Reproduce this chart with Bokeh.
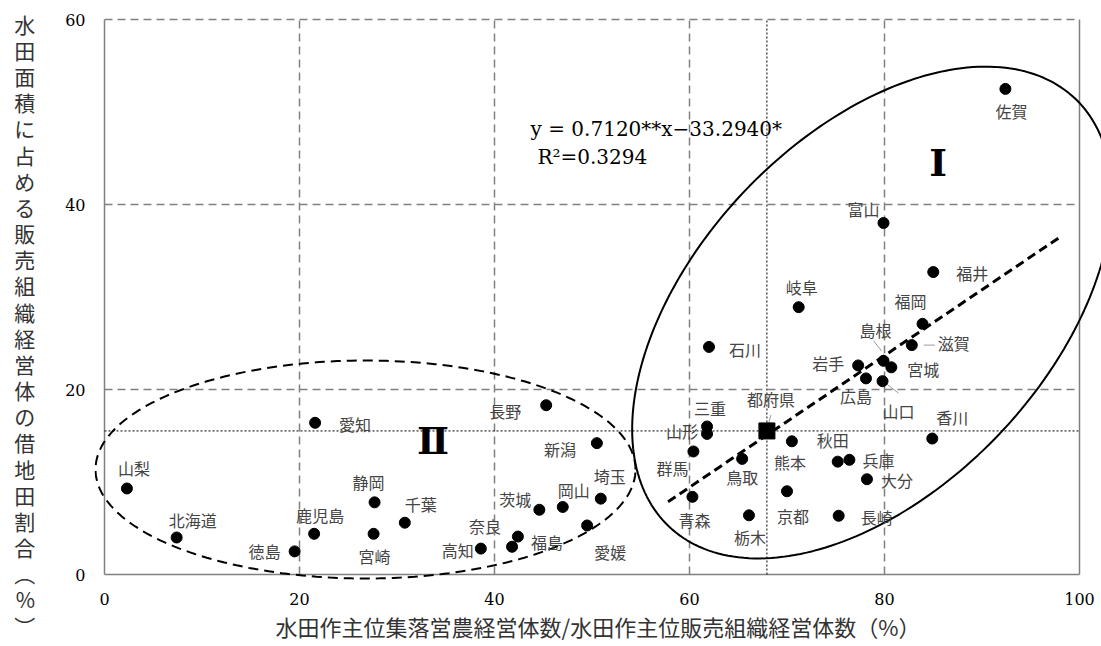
from bokeh.plotting import figure
from bokeh.models import ColumnDataSource, Label, FixedTicker
from bokeh.core.properties import value
from bokeh.embed import file_html
from bokeh.resources import INLINE
import math

# ---------------- data ----------------
names = ["山梨", "北海道", "徳島", "鹿児島", "愛知", "静岡", "宮崎", "千葉", "高知", "奈良",
         "福島", "茨城", "岡山", "埼玉", "愛媛", "新潟", "長野",
         "岐阜", "石川", "三重", "山形", "群馬", "青森", "鳥取", "熊本", "栃木", "京都",
         "秋田", "兵庫", "大分", "長崎", "岩手", "広島", "山口", "島根", "宮城", "滋賀",
         "福岡", "香川", "福井", "富山", "佐賀"]
x_share = [2.3, 7.4, 19.5, 21.5, 21.6, 27.7, 27.6, 30.8, 38.6, 42.4,
           41.8, 44.6, 47.0, 50.9, 49.5, 50.5, 45.3,
           71.2, 62.0, 61.8, 61.8, 60.4, 60.3, 65.4, 70.5, 66.1, 70.0,
           75.2, 76.4, 78.2, 75.3, 77.3, 78.1, 79.8, 79.9, 80.7, 82.8,
           83.9, 84.9, 85.0, 79.9, 92.4]
y_share = [9.3, 4.0, 2.5, 4.4, 16.4, 7.8, 4.4, 5.6, 2.8, 4.1,
           3.0, 7.0, 7.3, 8.2, 5.3, 14.2, 18.3,
           28.9, 24.6, 16.0, 15.2, 13.3, 8.4, 12.5, 14.4, 6.4, 9.0,
           12.2, 12.4, 10.3, 6.35, 22.6, 21.2, 20.9, 23.1, 22.4, 24.8,
           27.1, 14.7, 32.7, 38.0, 52.5]
avg_name = "都府県"
avg_x = 67.94
avg_y = 15.52
slope = 0.7120
intercept = -33.2940
fit_x = [57.8, 97.9]
eq_text = "y = 0.7120**x\u221233.2940*"
r2_text = "R\u00b2=0.3294"
x_ticks = [0, 20, 40, 60, 80, 100]
y_ticks = [0, 20, 40, 60]
x_title = "水田作主位集落営農経営体数/水田作主位販売組織経営体数（%）"
y_title = "水田面積に占める販売組織経営体の借地田割合︵%︶"

# label placement (screen px offsets from point, y down)
label_offsets = {
    "山梨": (7, -20), "北海道": (16, -18), "徳島": (-30, 0), "鹿児島": (6, -19),
    "愛知": (40, 1), "静岡": (-6, -20), "宮崎": (1, 22), "千葉": (16, -19),
    "高知": (-23, 1), "奈良": (-33, -11), "福島": (35, -5), "茨城": (-24, -11),
    "岡山": (11, -17), "埼玉": (9, -23), "愛媛": (23, 27), "新潟": (-37, 6),
    "長野": (-41, 6), "岐阜": (3, -20), "石川": (36, 2), "三重": (3, -19),
    "山形": (-25, -3), "群馬": (-21, 17), "青森": (2, 23), "鳥取": (0, 18),
    "熊本": (-2, 21), "栃木": (1, 22), "京都": (6, 25), "秋田": (-5, -22),
    "兵庫": (29, 0), "大分": (30, 1), "長崎": (38, 1), "岩手": (-30, -2),
    "広島": (-10, 18), "山口": (16, 30), "島根": (-8, -31), "宮城": (32, 2),
    "滋賀": (42, -2), "福岡": (-12, -23), "香川": (20, -22), "福井": (39, 1),
    "富山": (-20, -14), "佐賀": (6, 22),
}
avg_offset = (4, -32)
leaders = {"滋賀": ((12, 0), (23, 0)), "島根": ((-10, -20), (-2, -10)),
           "山口": ((3, 2), (16, 12))}
avg_leader = ((4, -16), (1, -5))

# region outlines: center (data), semi-axes (screen px), tilt (deg)
ell1 = dict(cx=78.72, cy=28.32, a=295, b=176, ang=46.5)
ell2 = dict(cx=26.77, cy=11.35, a=270, b=109, ang=0.0)

# ---------------- layout ----------------
W, H = 1101, 646
ML, MR, MT, MB = 94, 0, 16, 66
X0_PX, Y0_PX, PX_X, PX_Y = 104, 574, 9.75, 9.25   # pixel of data origin, px per unit
XR = ((ML - X0_PX) / PX_X, (W - MR - X0_PX) / PX_X)
YR = ((Y0_PX - (H - MB)) / PX_Y, (Y0_PX - MT) / PX_Y)

p = figure(width=W, height=H, x_range=XR, y_range=YR, output_backend="svg",
           toolbar_location=None, min_border_left=ML, min_border_right=MR,
           min_border_top=MT, min_border_bottom=MB)
p.outline_line_color = None
p.xgrid.visible = False
p.ygrid.visible = False

for ax, ticks in ((p.xaxis, x_ticks), (p.yaxis, y_ticks)):
    ax.ticker = FixedTicker(ticks=ticks)
    ax.axis_line_color = None
    ax.major_tick_line_color = None
    ax.minor_tick_line_color = None
    ax.major_tick_out = 0
    ax.major_tick_in = 0
    ax.minor_tick_out = 0
    ax.minor_tick_in = 0
    ax.major_label_text_font = "DejaVu Serif"
    ax.major_label_text_font_size = "16px"
    ax.major_label_text_color = "black"
    ax.axis_label_text_font = "Noto Sans CJK JP"
    ax.axis_label_text_font_style = "normal"
    ax.axis_label_text_color = "#333333"
p.xaxis.major_label_standoff = 12
p.yaxis.major_label_standoff = 9

p.xaxis.axis_label = x_title
p.xaxis.axis_label_text_font_size = "22px"
p.xaxis.axis_label_standoff = 2

yax = p.yaxis[0]
yax.axis_label_text_font_size = "21px"
if "axis_label_orientation" in yax.properties():
    yax.axis_label = "\n".join(["\u3000", "\u3000"] + list(y_title))
    yax.axis_label_orientation = "horizontal"
    yax.axis_label_text_line_height = 0.872
else:
    yax.axis_label = y_title
yax.axis_label_standoff = 27

grid_col = "#808080"
inner_x = x_ticks[1:-1]
p.multi_line(xs=[[t, t] for t in inner_x], ys=[[y_ticks[0], y_ticks[-1]]] * len(inner_x),
             line_color=grid_col, line_width=1.5, line_dash="8 5")
p.multi_line(xs=[[x_ticks[0], x_ticks[-1]]] * (len(y_ticks) - 1), ys=[[t, t] for t in y_ticks[1:]],
             line_color=grid_col, line_width=1.5, line_dash="8 5")
# frame border (left, bottom, right)
p.multi_line(xs=[[x_ticks[0], x_ticks[0]], [x_ticks[0], x_ticks[-1]], [x_ticks[-1], x_ticks[-1]]],
             ys=[[y_ticks[0], y_ticks[-1]], [y_ticks[0], y_ticks[0]], [y_ticks[0], y_ticks[-1]]],
             line_color=grid_col, line_width=1.5)
# average reference lines
p.line([avg_x, avg_x], [y_ticks[0], y_ticks[-1]], line_color="black", line_width=1, line_dash="2 2")
p.line([x_ticks[0], x_ticks[-1]], [avg_y, avg_y], line_color="black", line_width=1, line_dash="2 2")

# regression line
fit_y = [slope * v + intercept for v in fit_x]
p.line(fit_x, fit_y, line_color="black", line_width=3, line_dash="9 5")


def ellipse_path(e, n=240):
    th = math.radians(e["ang"])
    xs, ys = [], []
    for k in range(n + 1):
        t = 2 * math.pi * k / n
        u, v = e["a"] * math.cos(t), e["b"] * math.sin(t)
        dx = u * math.cos(th) - v * math.sin(th)
        dy = u * math.sin(th) + v * math.cos(th)
        xs.append(e["cx"] + dx / PX_X)
        ys.append(e["cy"] + dy / PX_Y)
    return xs, ys


e1x, e1y = ellipse_path(ell1)
p.line(e1x, e1y, line_color="black", line_width=2)
e2x, e2y = ellipse_path(ell2)
p.line(e2x, e2y, line_color="black", line_width=2, line_dash="10 6")

# leader lines
lx0, ly0, lx1, ly1 = [], [], [], []
idx = {n: i for i, n in enumerate(names)}
items = [(x_share[idx[n]], y_share[idx[n]], a, b) for n, (a, b) in leaders.items()]
items.append((avg_x, avg_y, avg_leader[0], avg_leader[1]))
for xv, yv, a, b in items:
    lx0.append(xv + a[0] / PX_X); ly0.append(yv - a[1] / PX_Y)
    lx1.append(xv + b[0] / PX_X); ly1.append(yv - b[1] / PX_Y)
p.segment(x0=lx0, y0=ly0, x1=lx1, y1=ly1, line_color="#9a9a9a", line_width=1)

# points
p.scatter(x_share, y_share, size=11, color="black")
p.scatter([avg_x], [avg_y], marker="square", size=16, color="black")

# point labels
src = ColumnDataSource(dict(
    x=x_share + [avg_x], y=y_share + [avg_y], name=names + [avg_name],
    dx=[label_offsets[n][0] for n in names] + [avg_offset[0]],
    dy=[label_offsets[n][1] for n in names] + [avg_offset[1]],
))
p.text(x="x", y="y", text="name", x_offset="dx", y_offset="dy", source=src,
       text_font=value("Noto Sans CJK JP"), text_font_size="16px", text_color="#444444",
       text_align="center", text_baseline="middle")

# equation
p.add_layout(Label(x=43.7, y=48.2, text=eq_text, text_font="DejaVu Serif", text_font_size="20px",
                   text_color="black", text_baseline="middle", text_align="left"))
p.add_layout(Label(x=44.4, y=45.1, text=r2_text, text_font="DejaVu Serif", text_font_size="20px",
                   text_color="black", text_baseline="middle", text_align="left"))
# region numerals
p.add_layout(Label(x=85.5, y=44.5, text="Ⅰ", text_font="DejaVu Serif", text_font_size="38px",
                   text_font_style="bold", text_color="black", text_baseline="middle", text_align="center"))
p.add_layout(Label(x=33.7, y=14.5, text="Ⅱ", text_font="DejaVu Serif", text_font_size="38px",
                   text_font_style="bold", text_color="black", text_baseline="middle", text_align="center"))

open("out.html", "w").write(file_html(p, INLINE))
